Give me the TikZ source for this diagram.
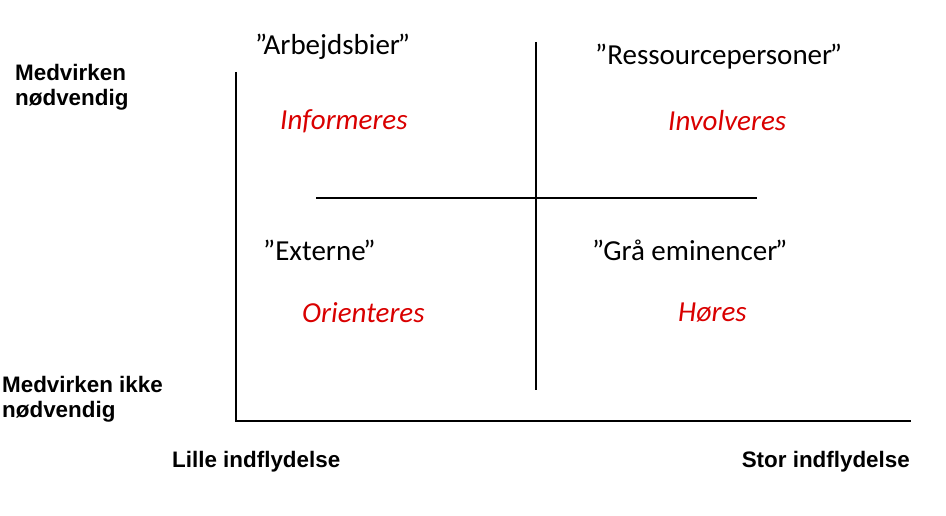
\documentclass[tikz,border=0pt]{standalone}
\usepackage{fontspec}
\setmainfont{Carlito}
\newfontfamily\achsenfont{Liberation Sans}
\usetikzlibrary{positioning}
\def \groesseGruppe {\fontsize{29}{34}\selectfont}
\def \groesseAchse {\fontsize{22.4}{25}\selectfont}
\tikzset{
  gruppe/.style={anchor=west,inner sep=0pt,font=\groesseGruppe},
  handlung/.style={anchor=west,inner sep=0pt,font=\groesseGruppe\itshape,text=red!85!black},
  achse/.style={anchor=west,inner sep=0pt,align=left,font=\groesseAchse\achsenfont\bfseries},
  linie/.style={draw=black,line width=1.3pt}
}

\begin{document}
\begin{tikzpicture}[x=1pt,y=-1pt]
  \useasboundingbox (0,0) rectangle (946,516);
  % Achsen
  \coordinate (achse-oben) at (236,72);
  \coordinate (ursprung) at (236,421);
  \coordinate (achse-rechts) at (911,421);
  \draw[linie] (achse-oben) -- (ursprung) -- (achse-rechts);
  % Kreuz
  \coordinate (kreuz-oben) at (536,42);
  \coordinate (kreuz-unten) at (536,390);
  \coordinate (kreuz-links) at (316,198);
  \coordinate (kreuz-rechts) at (757,198);
  \draw[linie] (kreuz-oben) -- (kreuz-unten)
  (kreuz-links) -- (kreuz-rechts);
  % Quadranten
  \node[gruppe] (arbejdsbier) at (255,47) {”Arbejdsbier\kern-.08em”};
  \node[handlung] (informeres) at (280,121) {Informeres};
  \node[gruppe] (ressource) at (595,57) {”Ressourcepersoner\kern-.08em”};
  \node[handlung] (involveres) at (668,121) {Involveres};
  \node[gruppe] (externe) at (263,250) {”Externe\kern-.08em”};
  \node[handlung] (orienteres) at (302,313) {Orienteres};
  \node[gruppe] (eminencer) at (592,250) {”Grå eminencer\kern-.08em”};
  \node[handlung] (hoeres) at (678,313) {Høres};
  % Beschriftung
  \node[achse] (noedvendig) at (15,87) {Medvirken\\nødvendig};
  \node[achse] (ikke) at (2,399) {Medvirken ikke\\nødvendig};
  \node[achse] (lille) at (172,462) {Lille indflydelse};
  \node[achse,anchor=east] (stor) at (910,462) {Stor indflydelse};
\end{tikzpicture}
\end{document}
